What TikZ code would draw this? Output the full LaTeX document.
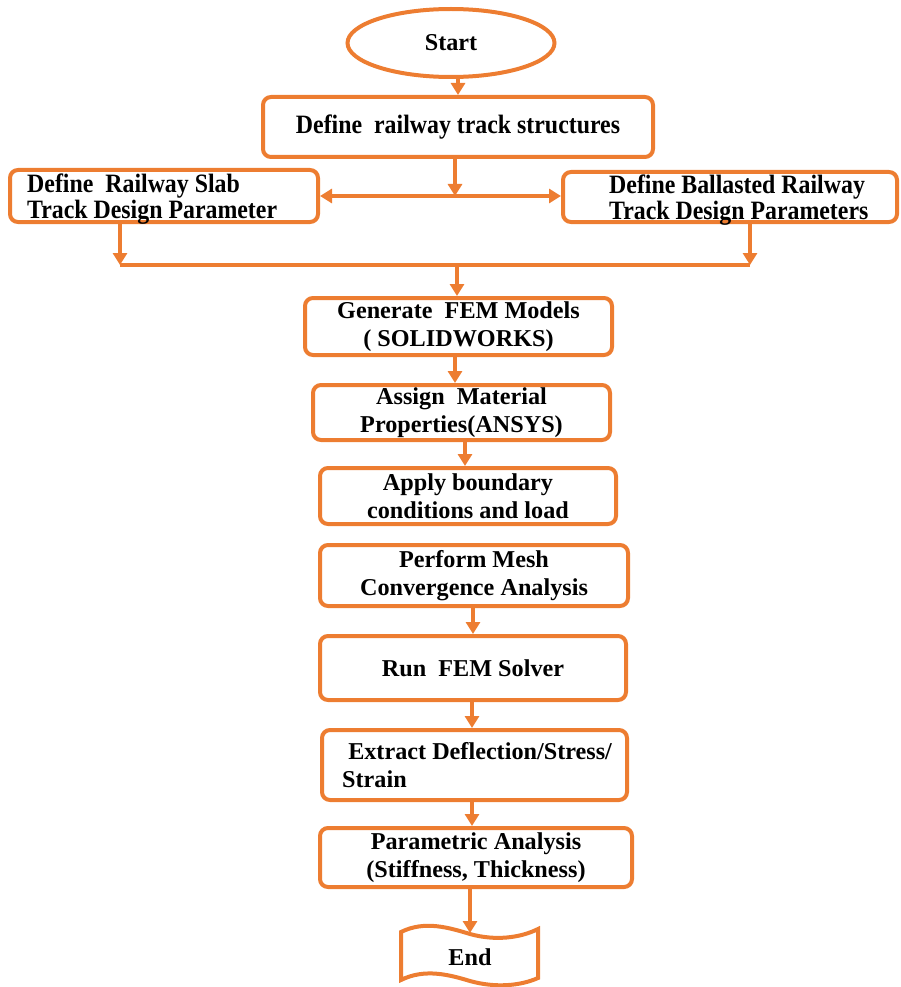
\documentclass[tikz,border=0pt]{standalone}
\usepackage{fontspec}
\setmainfont{Liberation Serif}
\newfontfamily\narrowserif[FakeStretch=0.9]{Liberation Serif}
\usetikzlibrary{arrows.meta,shapes.geometric,calc}
\definecolor{flow}{HTML}{ED7D31}
\begin{document}
\begin{tikzpicture}[x=1pt,y=-1pt,
  every node/.style={font=\fontsize{24.2}{28}\selectfont\bfseries, text=black},
  narrow/.style={font=\narrowserif\fontsize{26.5}{26}\selectfont\bfseries},
  box/.style={draw=flow, line width=4pt, rounded corners=8pt, fill=white, inner sep=0pt, align=center},
  link/.style={draw=flow, line width=3.5pt, -{Triangle[length=12pt,width=14pt]}},
  both/.style={draw=flow, line width=3.5pt, {Triangle[length=12pt,width=14pt]}-{Triangle[length=12pt,width=14pt]}},
  plain/.style={draw=flow, line width=3.5pt}]
\useasboundingbox (0,0) rectangle (900,987);

% start / first definition
\node[ellipse, draw=flow, line width=4pt, minimum width=207pt, minimum height=68pt, inner sep=0pt] (start) at (451,43) {Start};
\node[box, narrow, minimum width=390pt, minimum height=60pt] (def) at (458,127) {Define\ \ railway track structures};

% the two track types
\node[box, minimum width=308pt, minimum height=52pt] (slab) at (164,196) {};
\node[narrow, anchor=west, align=left, inner sep=0pt] at (27,199) {Define\ \ Railway Slab\\Track Design Parameter};
\node[box, minimum width=334pt, minimum height=50pt] (ball) at (730,197) {};
\node[narrow, anchor=west, align=left, inner sep=0pt] at (609,200) {Define Ballasted Railway\\Track Design Parameters};

% analysis chain
\node[box, minimum width=307pt, minimum height=57pt] (fem) at (458.5,326.5) {Generate\ \ FEM Models\\( SOLIDWORKS)};
\node[box, minimum width=297pt, minimum height=55pt] (assign) at (461.5,412.5) {Assign\ \ Material\\Properties(ANSYS)};
\node[box, minimum width=296pt, minimum height=56pt] (apply) at (468,496) {Apply boundary\\conditions and load};
\node[box, minimum width=308pt, minimum height=61pt] (mesh) at (474,575.5) {Perform Mesh\\Convergence Analysis};
\node[box, minimum width=306pt, minimum height=64pt] (run) at (473,668) {Run\ \ FEM Solver};
\node[box, minimum width=305pt, minimum height=70pt] (extract) at (474.5,765) {};
\node[anchor=west, align=left, inner sep=0pt] at (342,765) {\ Extract Deflection/Stress/\\Strain};
\node[box, minimum width=312pt, minimum height=59pt] (param) at (476,857.5) {Parametric Analysis\\(Stiffness, Thickness)};

% end terminal (wavy tape)
\node[minimum width=136pt, minimum height=52pt, inner sep=0pt] (end) at (470,957) {};
\draw[flow, line width=4pt, fill=white]
  (401,932) .. controls (425,920) and (450,928) .. (470,934)
            .. controls (495,941) and (520,938) .. (538,929)
  -- (538,978)
            .. controls (520,986) and (495,988) .. (470,981)
            .. controls (450,975) and (425,968) .. (401,980) -- cycle;
\node at (end) {End};

% junction points
\coordinate (split) at (455,196);
\coordinate (jl) at (120,265);
\coordinate (jr) at (750,265);
\coordinate (jm) at (457,265);

% connectors
\draw[link] (start.south -| def.north) -- (def.north);
\draw[link] (def.south -| split) -- (split);
\draw[both] (slab.east) -- (slab.east -| ball.west);
\draw[link] (slab.south -| jl) -- (jl);
\draw[link] (ball.south -| jr) -- (jr);
\draw[plain] (jl) -- (jr);
\draw[link] (jm) -- (fem.north -| jm);
\draw[link] (fem.south -| 455,0) -- (assign.north -| 455,0);
\draw[link] (assign.south -| 465,0) -- (apply.north -| 465,0);
\draw[link] (mesh.south -| 473,0) -- (run.north -| 473,0);
\draw[link] (run.south -| 472,0) -- (extract.north -| 472,0);
\draw[link] (extract.south -| 472,0) -- (param.north -| 472,0);
\draw[link] (param.south -| 470,0) -- (470,933);
\end{tikzpicture}
\end{document}
